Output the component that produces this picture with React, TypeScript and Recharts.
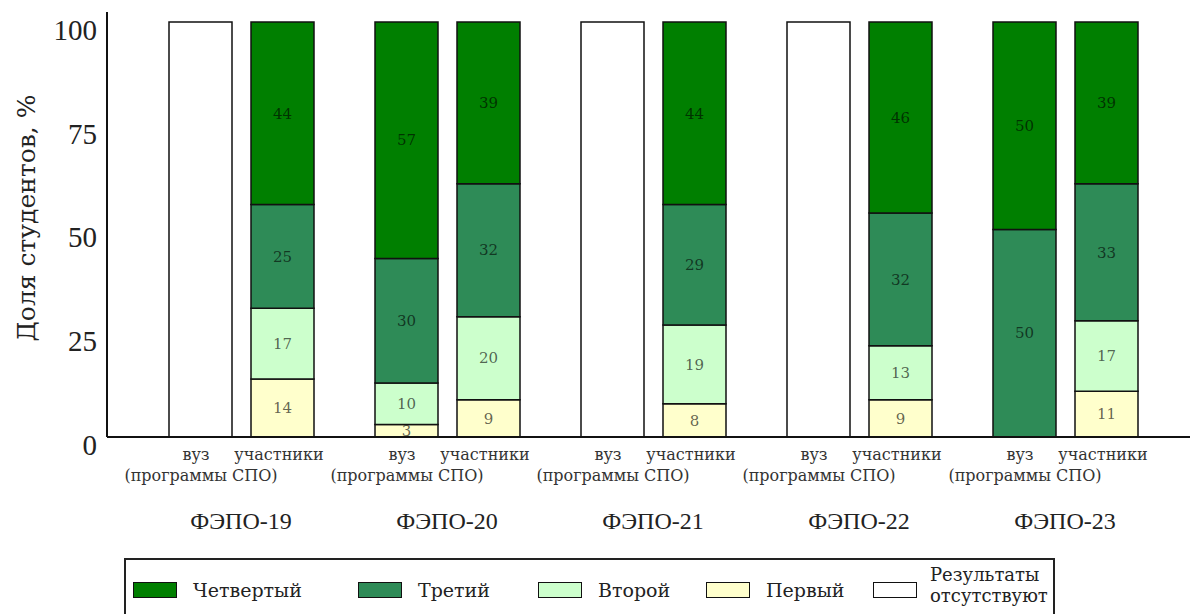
import React from "react";
import { BarChart, Bar, XAxis, YAxis, LabelList } from "recharts";

const groups = ["ФЭПО-19", "ФЭПО-20", "ФЭПО-21", "ФЭПО-22", "ФЭПО-23"];

// вуз (программы СПО)
const vuzFirst = [0, 3, 0, 0, 0];
const vuzSecond = [0, 10, 0, 0, 0];
const vuzThird = [0, 30, 0, 0, 50];
const vuzFourth = [0, 57, 0, 0, 50];
const vuzMissing = [100, 0, 100, 100, 0];

// участники
const uchFirst = [14, 9, 8, 9, 11];
const uchSecond = [17, 20, 19, 13, 17];
const uchThird = [25, 32, 29, 32, 33];
const uchFourth = [44, 39, 44, 46, 39];

const yTicks = [0, 25, 50, 75, 100];

const COLORS = {
  fourth: "#007f00",
  third: "#2e8b57",
  second: "#ccffcc",
  first: "#ffffcc",
  missing: "#ffffff",
};

const legendItems = [
  { name: "Четвертый", color: COLORS.fourth, w: 225 },
  { name: "Третий", color: COLORS.third, w: 180 },
  { name: "Второй", color: COLORS.second, w: 168 },
  { name: "Первый", color: COLORS.first, w: 167 },
  { name: "Результаты\nотсутствуют", color: COLORS.missing, w: 170 },
];

const data = groups.map((g, i) => ({
  group: g,
  vuzFirst: vuzFirst[i],
  vuzSecond: vuzSecond[i],
  vuzThird: vuzThird[i],
  vuzFourth: vuzFourth[i],
  vuzMissing: vuzMissing[i],
  uchFirst: uchFirst[i],
  uchSecond: uchSecond[i],
  uchThird: uchThird[i],
  uchFourth: uchFourth[i],
}));

const SERIF = "'DejaVu Serif', serif";

function SegmentLabel(props: any) {
  const { x, y, width, height, value } = props;
  if (!value) return null;
  return (
    <text
      x={x + width / 2}
      y={y + height / 2}
      dy="0.35em"
      textAnchor="middle"
      fontFamily={SERIF}
      fontSize={15}
      fill="rgba(0,0,0,0.62)"
    >
      {value}
    </text>
  );
}

function GroupTick(props: any) {
  const { x, y, payload } = props;
  return (
    <g fontFamily={SERIF} fill="#333">
      <text x={x - 45} y={y + 21} textAnchor="middle" fontSize={16}>
        вуз
      </text>
      <text x={x + 38} y={y + 21} textAnchor="middle" fontSize={16}>
        участники
      </text>
      <text x={x - 40} y={y + 42} textAnchor="middle" fontSize={16}>
        (программы СПО)
      </text>
      <text
        x={x}
        y={y + 90}
        textAnchor="middle"
        fontSize={24}
        fontFamily="'Liberation Serif', serif"
        fill="#222"
      >
        {payload.value}
      </text>
    </g>
  );
}

function ValueTick(props: any) {
  const { x, y, payload } = props;
  return (
    <text
      x={x}
      y={y}
      dy={18}
      textAnchor="end"
      fontFamily="'Liberation Serif', serif"
      fontSize={29}
      fill="#222"
    >
      {payload.value}
    </text>
  );
}

const barProps = {
  stroke: "#111",
  strokeWidth: 1.5,
  isAnimationActive: false,
};

export default function App() {
  return (
    <div
      style={{
        position: "absolute",
        left: 0,
        top: 0,
        width: 1193,
        height: 614,
        background: "#fff",
        overflow: "hidden",
      }}
    >
      <BarChart
        width={1193}
        height={614}
        data={data}
        margin={{ top: 12, right: 3, left: 0, bottom: 77 }}
        barSize={63}
        barGap={19}
      >
        <XAxis
          dataKey="group"
          height={100}
          padding={{ left: 31, right: 22 }}
          axisLine={{ stroke: "#111", strokeWidth: 2 }}
          tickLine={false}
          tickSize={0}
          tick={<GroupTick />}
          interval={0}
        />
        <YAxis
          width={107}
          domain={[0, 102.4]}
          ticks={yTicks}
          allowDataOverflow
          axisLine={{ stroke: "#111", strokeWidth: 2 }}
          tickLine={false}
          tickSize={0}
          tickMargin={10}
          tick={<ValueTick />}
        />
        <Bar dataKey="vuzFirst" stackId="vuz" fill={COLORS.first} {...barProps}>
          <LabelList dataKey="vuzFirst" content={<SegmentLabel />} />
        </Bar>
        <Bar dataKey="vuzSecond" stackId="vuz" fill={COLORS.second} {...barProps}>
          <LabelList dataKey="vuzSecond" content={<SegmentLabel />} />
        </Bar>
        <Bar dataKey="vuzThird" stackId="vuz" fill={COLORS.third} {...barProps}>
          <LabelList dataKey="vuzThird" content={<SegmentLabel />} />
        </Bar>
        <Bar dataKey="vuzFourth" stackId="vuz" fill={COLORS.fourth} {...barProps}>
          <LabelList dataKey="vuzFourth" content={<SegmentLabel />} />
        </Bar>
        <Bar dataKey="vuzMissing" stackId="vuz" fill={COLORS.missing} {...barProps} />
        <Bar dataKey="uchFirst" stackId="uch" fill={COLORS.first} {...barProps}>
          <LabelList dataKey="uchFirst" content={<SegmentLabel />} />
        </Bar>
        <Bar dataKey="uchSecond" stackId="uch" fill={COLORS.second} {...barProps}>
          <LabelList dataKey="uchSecond" content={<SegmentLabel />} />
        </Bar>
        <Bar dataKey="uchThird" stackId="uch" fill={COLORS.third} {...barProps}>
          <LabelList dataKey="uchThird" content={<SegmentLabel />} />
        </Bar>
        <Bar dataKey="uchFourth" stackId="uch" fill={COLORS.fourth} {...barProps}>
          <LabelList dataKey="uchFourth" content={<SegmentLabel />} />
        </Bar>
      </BarChart>

      <div
        style={{
          position: "absolute",
          left: 27,
          top: 218,
          transform: "translate(-50%, -50%) rotate(-90deg)",
          whiteSpace: "nowrap",
          fontFamily: SERIF,
          fontSize: 25,
          lineHeight: "28px",
          color: "#222",
        }}
      >
        Доля студентов, %
      </div>

      <div
        style={{
          position: "absolute",
          left: 124,
          top: 558,
          width: 931,
          height: 70,
          border: "2px solid #222",
          boxSizing: "border-box",
          fontFamily: SERIF,
          fontSize: 19,
          color: "#222",
        }}
      >
        <div
          style={{
            position: "absolute",
            left: 7,
            top: 8,
            height: 44,
            display: "flex",
            alignItems: "center",
            whiteSpace: "nowrap",
          }}
        >
          {legendItems.map((it, i) => (
            <div
              key={it.name}
              style={{
                display: "flex",
                alignItems: "center",
                gap: i === legendItems.length - 1 ? 13 : 16,
                width: it.w,
              }}
            >
              <span
                style={{
                  width: 42,
                  height: 14,
                  background: it.color,
                  border: "1.5px solid #111",
                  display: "inline-block",
                  flex: "none",
                }}
              />
              <span
                style={{
                  whiteSpace: "pre",
                  lineHeight: "21px",
                  fontSize: i === legendItems.length - 1 ? 18 : 19,
                  marginTop: i === legendItems.length - 1 ? -10 : 0,
                }}
              >
                {it.name}
              </span>
            </div>
          ))}
        </div>
      </div>
    </div>
  );
}
